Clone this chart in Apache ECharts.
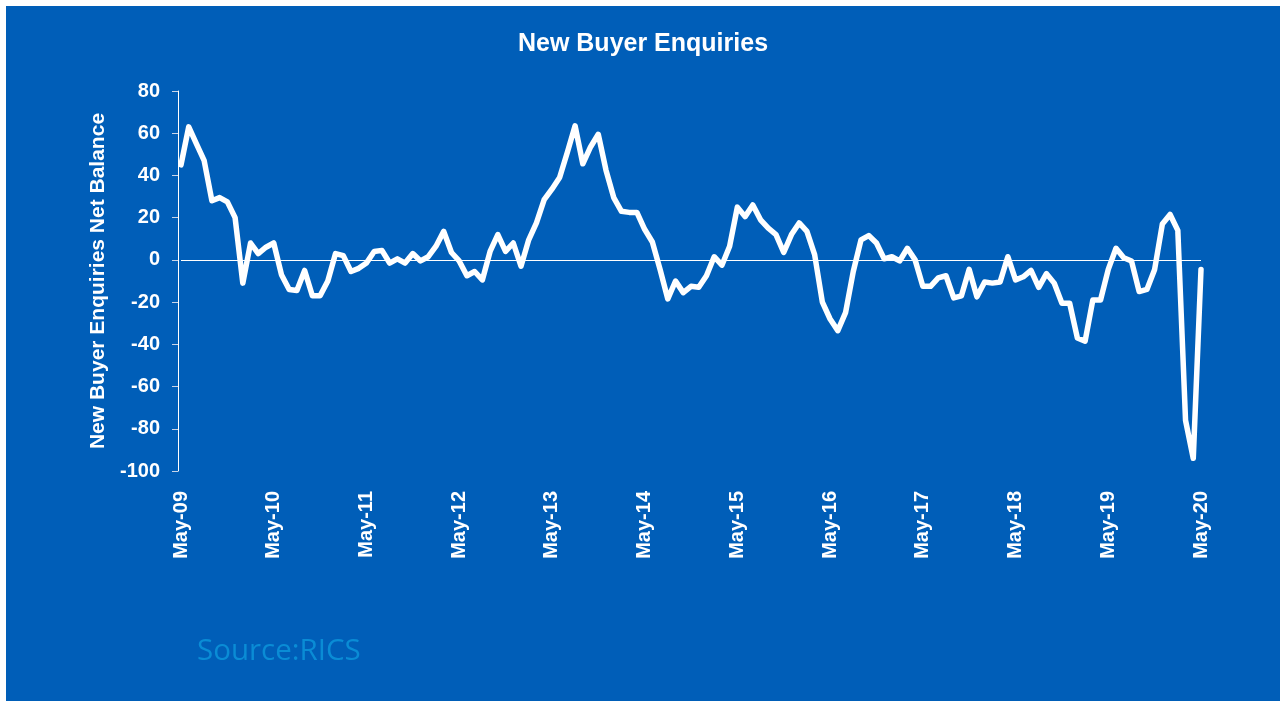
<!DOCTYPE html>
<html>
<head>
<meta charset="utf-8">
<title>New Buyer Enquiries</title>
<script src="https://cdn.jsdelivr.net/npm/echarts@6/dist/echarts.min.js"></script>
<style>
  html, body { margin: 0; padding: 0; background: #fff; }
  #chart { position: absolute; left: 6px; top: 6px; width: 1274px; height: 695px; }
</style>
</head>
<body>
<div id="chart"></div>
<script>
// RICS new buyer enquiries net balance, monthly May-09 .. May-20
const enquiries = [
  45, 63, 55, 47, 28, 29.5, 27.5, 20, -11, 8,
  3, 6, 8, -7, -14, -14.5, -5, -17, -17, -10,
  3, 2, -5.5, -4, -1.5, 4, 4.5, -1.5, 0.5, -1.5,
  3, -0.5, 1.5, 6.5, 13.5, 3.5, -0.5, -7.5, -5.5, -9.5,
  4, 12, 4, 8, -3, 9.5, 17.5, 28.5, 33.5, 39,
  51, 63.5, 45.5, 53.5, 59.5, 42.5, 29.5, 23, 22.5, 22.5,
  14.5, 8.5, -4.5, -18.5, -10, -15.5, -12.5, -13, -7.5, 1.5,
  -2.5, 6.5, 25, 20.5, 26, 19, 15, 12, 3.5, 12,
  17.5, 13.5, 2.5, -20, -28, -33.5, -25, -5.5, 9.5, 11.5,
  8, 0.5, 1.5, -0.5, 5.5, 0, -12.5, -12.5, -8.5, -7.5,
  -18, -17, -4.5, -17.5, -10.5, -11, -10.5, 1.5, -9.5, -8,
  -5, -13, -6.5, -11, -20.5, -20.5, -37, -38.5, -19, -19,
  -4.5, 5.5, 1, -0.5, -15, -14, -4.5, 17, 21.5, 14,
  -76, -94, -4.5
]

const monthNames = ['Jan', 'Feb', 'Mar', 'Apr', 'May', 'Jun', 'Jul', 'Aug', 'Sep', 'Oct', 'Nov', 'Dec']
const firstMonth = 4   // May
const firstYear = 9    // 2009
const categories = enquiries.map((v, i) => {
  const m = firstMonth + i
  return monthNames[m % 12] + '-' + String(firstYear + Math.floor(m / 12)).padStart(2, '0')
})

const yMin = -100
const yMax = 80
const yStep = 20

const font = 'Liberation Sans, Arial, sans-serif'

const chart = echarts.init(document.getElementById('chart'), null, { renderer: 'canvas' })

const option = {
  animation: false,
  backgroundColor: '#005EB8',
  title: {
    text: 'New Buyer Enquiries',
    left: 'center',
    top: 21,
    textStyle: {
      color: '#fff',
      fontFamily: font,
      fontWeight: 'bold',
      fontSize: 25
    }
  },
  grid: {
    left: 175,
    right: 79,
    top: 85,
    bottom: 230
  },
  xAxis: {
    type: 'category',
    data: categories,
    boundaryGap: false,
    axisLine: { show: false },
    axisTick: { show: false },
    splitLine: { show: false },
    axisLabel: {
      interval: 11,
      rotate: 90,
      margin: 20,
      color: '#fff',
      fontFamily: font,
      fontWeight: 'bold',
      fontSize: 20
    }
  },
  yAxis: {
    type: 'value',
    min: yMin,
    max: yMax,
    interval: yStep,
    offset: 3,
    name: 'New Buyer Enquiries Net Balance',
    nameLocation: 'middle',
    nameGap: 68,
    nameTextStyle: {
      color: '#fff',
      fontFamily: font,
      fontWeight: 'bold',
      fontSize: 21
    },
    axisLine: { show: true, lineStyle: { color: '#fff', width: 1 } },
    axisTick: { show: true, inside: false, length: 6, lineStyle: { color: '#c8d4e8', width: 1 } },
    splitLine: { show: false },
    axisLabel: {
      margin: 18,
      color: '#fff',
      fontFamily: font,
      fontWeight: 'bold',
      fontSize: 20
    }
  },
  series: [
    {
      name: 'New Buyer Enquiries',
      type: 'line',
      data: enquiries,
      symbol: 'none',
      smooth: false,
      clip: false,
      lineStyle: {
        color: '#fff',
        width: 5.5,
        cap: 'round',
        join: 'round'
      },
      markLine: {
        silent: true,
        symbol: ['none', 'none'],
        label: { show: false },
        lineStyle: { color: '#fff', width: 1, type: 'solid' },
        data: [{ yAxis: 0 }]
      }
    }
  ],
  graphic: [
    {
      type: 'text',
      left: 191,
      top: 631,
      style: {
        text: 'Source:RICS',
        fill: '#0A8CD5',
        font: '29.5px "Open Sans", sans-serif'
      }
    }
  ]
}

chart.setOption(option)
</script>
</body>
</html>
